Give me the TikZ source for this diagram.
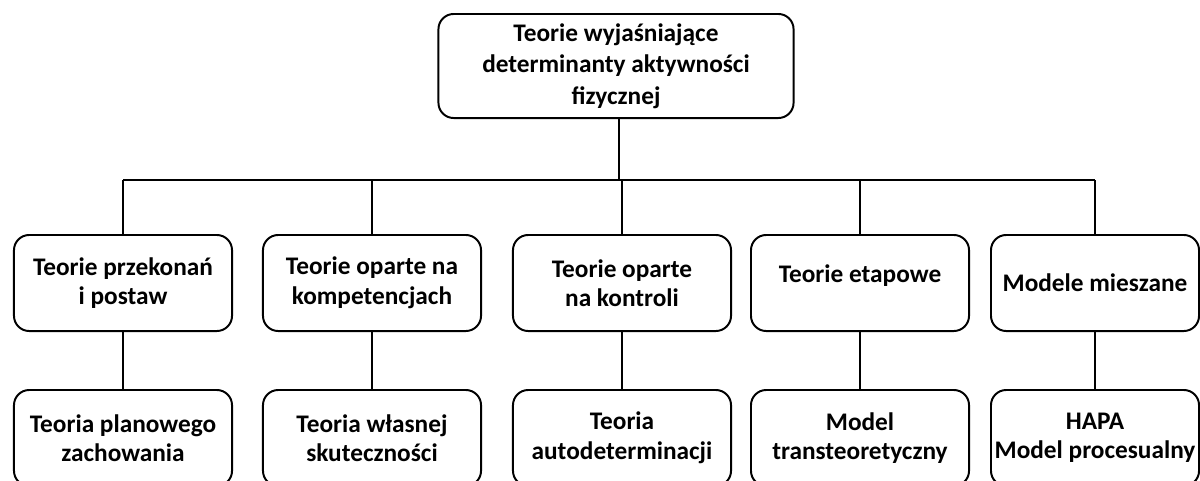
\documentclass[tikz,border=0pt]{standalone}
\usepackage{fontspec}
\setmainfont{Carlito}
\usepackage{tikz}

\begin{document}
\begin{tikzpicture}[x=0.025cm,y=-0.025cm,
    box/.style={draw, line width=1.4pt, rounded corners=0.38cm,
      minimum width=5.45cm, minimum height=2.4cm, inner sep=2pt,
      align=center, font=\bfseries\fontsize{18}{21}\selectfont},
    link/.style={line width=1.2pt}]
  \useasboundingbox (0,0) rectangle (1200,480);

  % Define box coordinates
  \coordinate (R) at (616,66);
  \coordinate (H) at (619,180);
  \foreach \i/\x in {1/123,2/372,3/622,4/860,5/1095}
  {
    \coordinate (K\i) at (\x,283);
    \coordinate (M\i) at (\x,438);
  }

  % Top box
  \node[box, minimum width=8.875cm, minimum height=2.6cm,
    font=\bfseries\fontsize{18}{22.5}\selectfont] (root) at (R)
    {Teorie wyjaśniające\\determinanty aktywności\\fizycznej};

  % Groups of theories
  \node[box] (k1) at (K1) {Teorie przekonań\\i postaw};
  \node[box] (k2) at (K2) {Teorie oparte na\\kompetencjach};
  \node[box] (k3) at (K3) {Teorie oparte\\na kontroli};
  \node[box, text depth=13pt] (k4) at (K4) {Teorie etapowe};
  \node[box, minimum width=5.2cm] (k5) at (K5) {Modele mieszane};

  % Single theories
  \node[box] (m1) at (M1) {Teoria planowego\\zachowania};
  \node[box] (m2) at (M2) {Teoria własnej\\skuteczności};
  \node[box] (m3) at (M3) {Teoria\\autodeterminacji};
  \node[box] (m4) at (M4) {Model\\transteoretyczny};
  \node[box, minimum width=5.2cm] (m5) at (M5) {HAPA\\Model procesualny};

  % Draw connectors
  \draw[link] (root.south -| H) -- (H);
  \draw[link] (k1.north |- H) -- (k5.north |- H);
  \foreach \i in {1,2,3,4,5}
  {
    \draw[link] (k\i.north) -- (k\i.north |- H);
    \draw[link] (k\i.south) -- (m\i.north);
  }
\end{tikzpicture}
\end{document}
